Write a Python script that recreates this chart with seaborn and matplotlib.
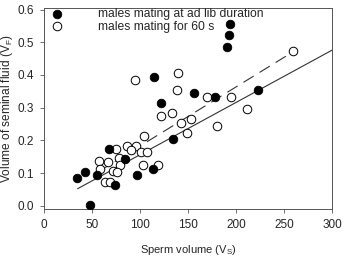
import matplotlib
matplotlib.use("Agg")
import matplotlib.pyplot as plt
import numpy as np
import pandas as pd
import seaborn as sns

# males mating at ad lib duration (filled)
adlib_x = [194, 193, 190.5, 114.5, 156.5, 178.5, 223, 121.5, 134.8, 68,
           84.4, 96.5, 113.9, 34.8, 42.8, 55, 74.2, 48]
adlib_y = [0.557, 0.523, 0.486, 0.395, 0.345, 0.334, 0.355, 0.314, 0.205, 0.174,
           0.144, 0.095, 0.112, 0.084, 0.103, 0.095, 0.062, 0.003]

# males mating for 60 s (open)
s60_x = [95, 140, 138.5, 169.5, 194.8, 211.8, 259, 121.8, 133, 142.4,
         153.4, 148.8, 180.2, 104.5, 74.8, 86.8, 95.9, 91, 101, 107,
         57.6, 66.6, 78.2, 79.2, 58.3, 72, 76, 103.4, 118.5, 63.5, 68.8]
s60_y = [0.385, 0.405, 0.355, 0.334, 0.334, 0.295, 0.474, 0.275, 0.285, 0.254,
         0.264, 0.224, 0.245, 0.214, 0.174, 0.183, 0.183, 0.17, 0.163, 0.163,
         0.138, 0.133, 0.145, 0.126, 0.112, 0.107, 0.102, 0.124, 0.124, 0.074, 0.074]

# fitted lines: slope, intercept, x range
fit_solid = (0.0016, -0.004, 35, 300)
fit_dash = (0.00181, 0.0015, 57, 259)

labels = ["males mating at ad lib duration", "males mating for 60 s"]

sns.set_style("ticks")
plt.rcParams["font.family"] = ["Liberation Sans", "DejaVu Sans"]
plt.rcParams["mathtext.fontset"] = "custom"
plt.rcParams["mathtext.rm"] = "Liberation Sans"

fig = plt.figure(figsize=(3.45, 2.58), dpi=100)
ax = fig.add_axes([0.1275, 0.19, 0.835, 0.779])

for (m, b, x0, x1), ls in [(fit_solid, "-"), (fit_dash, (0, (10.8, 6.2)))]:
    xs = np.array([x0, x1])
    ax.plot(xs, m * xs + b, color="#333333", lw=0.8, linestyle=ls, zorder=1)

df1 = pd.DataFrame({"x": adlib_x, "y": adlib_y})
df2 = pd.DataFrame({"x": s60_x, "y": s60_y})
sns.scatterplot(data=df1, x="x", y="y", ax=ax, color="black", edgecolor="black",
                s=38, linewidth=0.6, zorder=3, label=labels[0])
sns.scatterplot(data=df2, x="x", y="y", ax=ax, color="white", edgecolor="black",
                s=38, linewidth=0.7, zorder=2, label=labels[1])

ax.set_xlim(0, 300)
ax.set_ylim(-0.01, 0.605)
ax.set_xticks([0, 50, 100, 150, 200, 250, 300])
ax.set_yticks([0.0, 0.1, 0.2, 0.3, 0.4, 0.5, 0.6])
ax.yaxis.set_major_formatter(matplotlib.ticker.FormatStrFormatter("%.1f"))
ax.tick_params(labelsize=8.5, length=3, width=0.6, color="#555555", pad=4)
for sp in ax.spines.values():
    sp.set_linewidth(0.7)
    sp.set_color("#555555")

ax.set_xlabel(r"Sperm volume (V$_\mathregular{S}$)", fontsize=8, labelpad=9)
ax.set_ylabel(r"Volume of seminal fluid (V$_\mathregular{F}$)", fontsize=8.6, labelpad=2)

ax.legend(loc="upper left", bbox_to_anchor=(0.004, 1.0), frameon=False,
          fontsize=8.7, borderaxespad=0, borderpad=0, handletextpad=2.4,
          labelspacing=0.05, handlelength=2)

fig.savefig("out.png", dpi=100)
